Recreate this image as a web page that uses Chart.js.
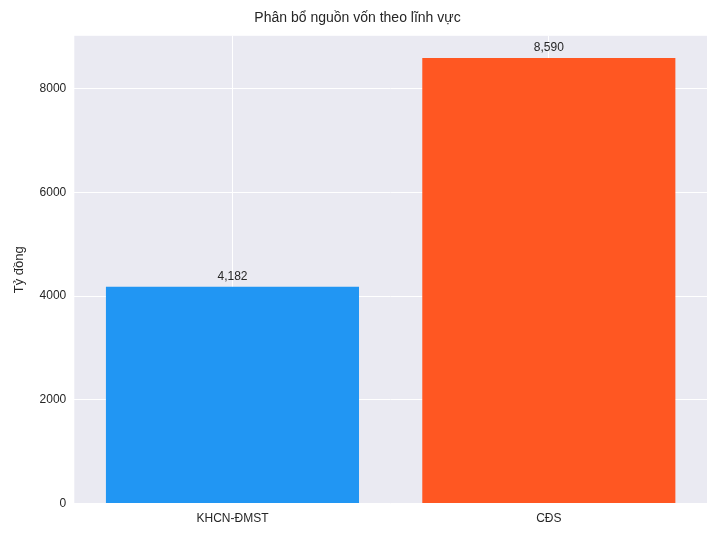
<!DOCTYPE html>
<html>
<head>
<meta charset="utf-8">
<script src="https://cdn.jsdelivr.net/npm/chart.js@4"></script>
<style>
  html, body { margin: 0; padding: 0; background: #fff; }
  #wrap { width: 720px; height: 540px; }
</style>
</head>
<body>
<div id="wrap"><canvas id="chart" width="720" height="540"></canvas></div>
<script>
// data
var categories = ['KHCN-ĐMST', 'CĐS'];
var values = [4182, 8590];
var barColors = ['#2196F3', '#FF5722'];
var yTicks = [0, 2000, 4000, 6000, 8000];

Chart.defaults.font.family = '"Liberation Sans", Arial, sans-serif';
Chart.defaults.color = '#262626';

// plot area background
var bgPlugin = {
  id: 'bg',
  beforeDraw: function (chart) {
    var a = chart.chartArea, ctx = chart.ctx;
    ctx.save();
    ctx.fillStyle = '#EAEAF2';
    ctx.fillRect(a.left, a.top, a.right - a.left, a.bottom - a.top);
    ctx.restore();
  }
};

// value labels above bars
var labelPlugin = {
  id: 'labels',
  afterDatasetsDraw: function (chart) {
    var ctx = chart.ctx;
    var meta = chart.getDatasetMeta(0);
    ctx.save();
    ctx.font = '12px "Liberation Sans", Arial, sans-serif';
    ctx.fillStyle = '#262626';
    ctx.textAlign = 'center';
    ctx.textBaseline = 'bottom';
    meta.data.forEach(function (bar, i) {
      ctx.fillText(values[i].toLocaleString('en-US'), bar.x, bar.y - 4);
    });
    ctx.restore();
  }
};

new Chart(document.getElementById('chart').getContext('2d'), {
  type: 'bar',
  data: {
    labels: categories,
    datasets: [{
      data: values,
      backgroundColor: barColors,
      borderWidth: 0,
      categoryPercentage: 1.0,
      barPercentage: 0.8
    }]
  },
  options: {
    responsive: false,
    animation: false,
    layout: { padding: { left: 8, right: 13, top: 0, bottom: 6 } },
    plugins: {
      legend: { display: false },
      tooltip: { enabled: false },
      title: {
        display: true,
        text: 'Phân bổ nguồn vốn theo lĩnh vực',
        font: { size: 14, weight: 'normal' },
        color: '#262626',
        padding: { top: 10, bottom: 9 }
      }
    },
    scales: {
      x: {
        offset: true,
        grid: { color: '#ffffff', lineWidth: 1, offset: false, drawTicks: false },
        border: { display: false },
        ticks: { font: { size: 12 }, padding: 8 }
      },
      y: {
        min: 0,
        max: 9020,
        afterBuildTicks: function (axis) {
          axis.ticks = yTicks.map(function (v) { return { value: v }; });
        },
        grid: { color: '#ffffff', lineWidth: 1, drawTicks: false },
        border: { display: false },
        ticks: { font: { size: 12 }, padding: 8, callback: function (v) { return v; } },
        title: { display: true, text: 'Tỷ đồng', font: { size: 13 }, color: '#262626' }
      }
    }
  },
  plugins: [bgPlugin, labelPlugin]
});
</script>
</body>
</html>
